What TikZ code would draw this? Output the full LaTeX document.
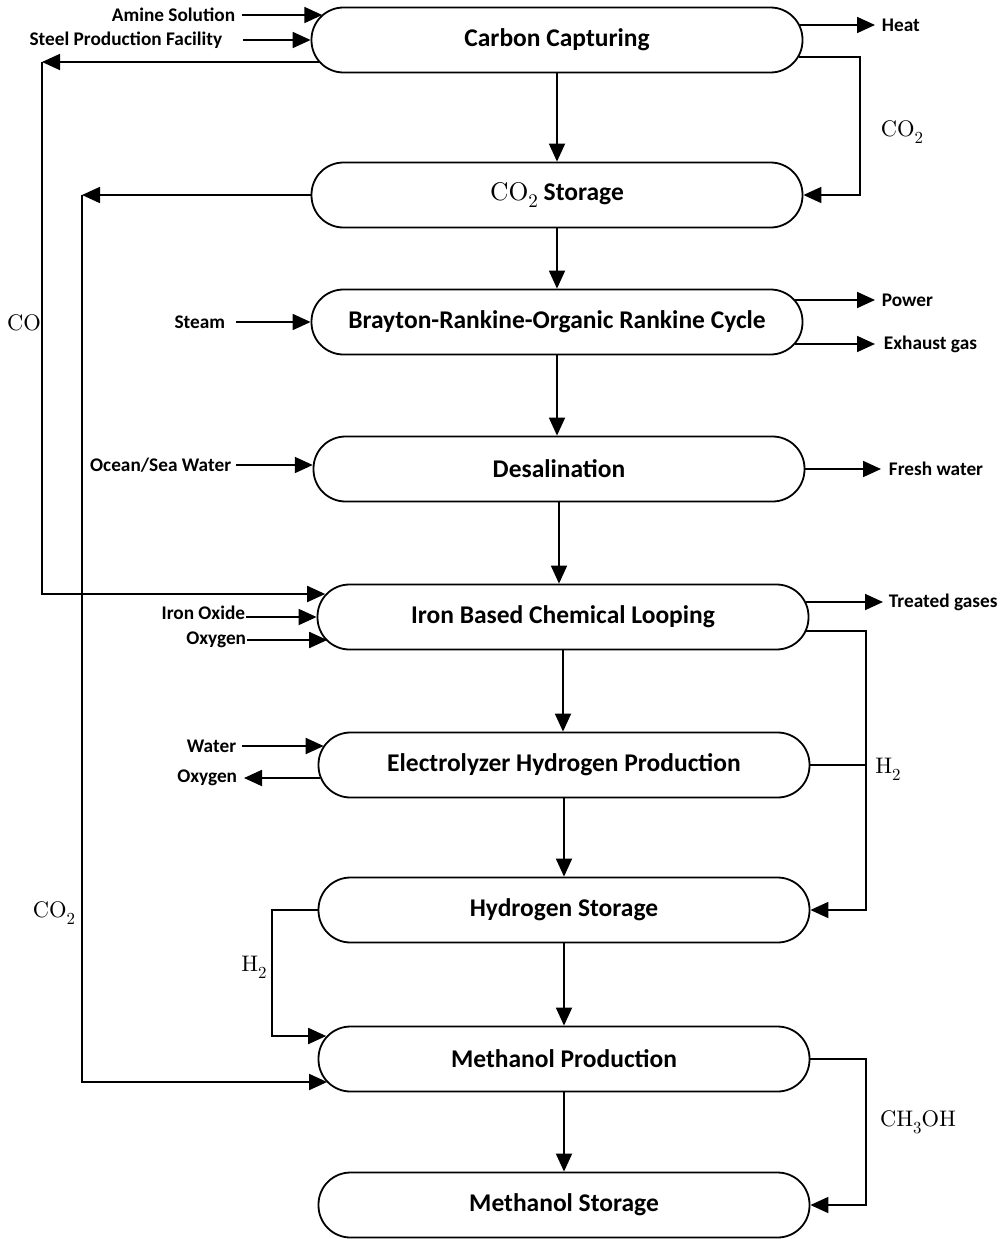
\documentclass[tikz,border=0pt]{standalone}
\usepackage{fontspec}
\setmainfont{Carlito}
\newfontfamily\chemfont{lmroman10-regular.otf}
\usetikzlibrary{arrows.meta,calc}
% lowered, reduced subscript for chemical formulas
\newcommand\chsub[1]{\raisebox{-0.3em}{\scalebox{0.75}{#1}}}

\begin{document}
\begin{tikzpicture}[x=1pt,y=-1pt,
  line width=1.8pt,
  stage/.style={draw, rectangle, rounded corners=32pt, minimum width=491pt,
    minimum height=65pt, inner sep=0pt, font=\fontsize{25.5}{30}\selectfont\bfseries},
  side/.style={inner sep=0pt, font=\fontsize{19.3}{23}\selectfont\bfseries},
  chem/.style={inner sep=0pt, font=\fontsize{22.5}{26}\selectfont\chemfont},
  flow/.style={-{Triangle[length=18pt,width=16pt]}}]
\useasboundingbox (0,0) rectangle (1004,1239);

% process stages
\node[stage] (cc)  at (557,40)   {Carbon Capturing};
\node[stage] (cs)  at (557,195)  {{\chemfont\mdseries CO\chsub{2}} Storage};
\node[stage] (br)  at (557,322)  {Brayton-Rankine-Organic Rankine Cycle};
\node[stage] (de)  at (559,469)  {Desalination};
\node[stage] (ir)  at (563,617)  {Iron Based Chemical Looping};
\node[stage] (el)  at (564,765)  {Electrolyzer Hydrogen Production};
\node[stage] (hs)  at (564,910)  {Hydrogen Storage};
\node[stage] (mp)  at (564,1059) {Methanol Production};
\node[stage] (ms)  at (564,1205) {Methanol Storage};

% main downward chain
\draw[flow] (cc.south) -- (cc.south |- cs.north);
\draw[flow] (cs.south) -- (cs.south |- br.north);
\draw[flow] (br.south) -- (br.south |- de.north);
\draw[flow] (de.south) -- (de.south |- ir.north);
\draw[flow] (ir.south) -- (ir.south |- el.north);
\draw[flow] (el.south) -- (el.south |- hs.north);
\draw[flow] (hs.south) -- (hs.south |- mp.north);
\draw[flow] (mp.south) -- (mp.south |- ms.north);

% carbon capturing inputs and outputs
\node[side, anchor=east] (amine) at (236,15) {Amine Solution};
\node[side, anchor=east] (steel) at (223,40) {Steel Production Facility};
\draw[flow] ($(amine.east)+(6,0)$) -- ($(cc.west)+(11.7,-25)$);
\draw[flow] ($(steel.east)+(20,0)$) -- (cc.west);
\node[side, anchor=west] (heat) at (881,25) {Heat};
\draw[flow] ($(cc.east)+(-3.7,-15)$) -- ($(heat.west)+(-6,0)$);

% CO2 recycle to storage
\coordinate (co2r) at (860,57);
\draw[flow] ($(cc.east)+(-4.8,17)$) -- (co2r) -- (co2r |- cs.east) -- (cs.east);
\node[chem] (lco2a) at (902,132) {CO\chsub{2}};

% CO line down to chemical looping
\coordinate (coc) at (42,62);
\draw[flow] ($(cc.west)+(8.6,22)$) -- (coc);
\draw[flow] (coc) -- (coc |- 0,594) -- ($(ir.west)+(8.6,-23)$);
\node[chem] (lco) at (24,323) {CO};

% CO2 line down to methanol production
\coordinate (cob) at (82,195);
\draw[flow] (cs.west) -- (cob);
\draw[flow] (cob) -- (cob |- 0,1082) -- ($(mp.west)+(9.5,23)$);
\node[chem] (lco2b) at (54,913) {CO\chsub{2}};

% power cycle
\node[side, anchor=east] (steam) at (226,322) {Steam};
\draw[flow] ($(steam.east)+(10,0)$) -- (br.west);
\node[side, anchor=west] (power) at (881,300) {Power};
\node[side, anchor=west] (exh) at (883,344) {Exhaust gas};
\draw[flow] ($(br.east)+(-8.6,-22)$) -- ($(power.west)+(-6,0)$);
\draw[flow] ($(br.east)+(-8.6,22)$) -- ($(exh.west)+(-8,0)$);

% desalination
\node[side, anchor=east] (sea) at (232,465) {Ocean/Sea Water};
\draw[flow] ($(sea.east)+(4,0)$) -- ($(de.west)+(0.2,-4)$);
\node[side, anchor=west] (fresh) at (888,469) {Fresh water};
\draw[flow] (de.east) -- ($(fresh.west)+(-7,0)$);

% chemical looping
\node[side, anchor=east] (iox) at (246,613) {Iron Oxide};
\node[side, anchor=east] (oxa) at (247,640) {Oxygen};
\draw[flow] (246,617) coordinate (ioxa) -- (ioxa -| ir.west);
\draw[flow] (oxa.east) -- ($(ir.west)+(10.6,23)$);
\node[side, anchor=west] (treat) at (888,602) {Treated gases};
\draw[flow] ($(ir.east)+(-3.2,-15)$) -- ($(treat.west)+(-5,0)$);

% hydrogen to storage
\coordinate (hr) at (866,631);
\draw[flow] ($(ir.east)+(-3.7,14)$) -- (hr) -- (hr |- hs.east) -- (hs.east);
\draw (el.east) -- (el.east -| hr);
\node[chem] (lh2a) at (888,769) {H\chsub{2}};

% electrolyzer
\node[side, anchor=east] (water) at (237,746) {Water};
\node[side, anchor=east] (oxb) at (238,778) {Oxygen};
\draw[flow] ($(water.east)+(5,0)$) -- ($(el.west)+(6.1,-19)$);
\draw[flow] ($(el.west)+(2.7,13)$) -- ($(oxb.east)+(6,0)$);

% hydrogen to methanol production
\coordinate (hl) at (272,910);
\draw[flow] (hs.west) -- (hl) -- (hl |- 0,1036) -- ($(mp.west)+(8.6,-23)$);
\node[chem] (lh2b) at (254,967) {H\chsub{2}};

% methanol to storage
\coordinate (mr) at (866,1059);
\draw[flow] (mp.east) -- (mr) -- (mr |- ms.east) -- (ms.east);
\node[chem] (lmeoh) at (918,1122) {CH\chsub{3}OH};
\end{tikzpicture}
\end{document}
